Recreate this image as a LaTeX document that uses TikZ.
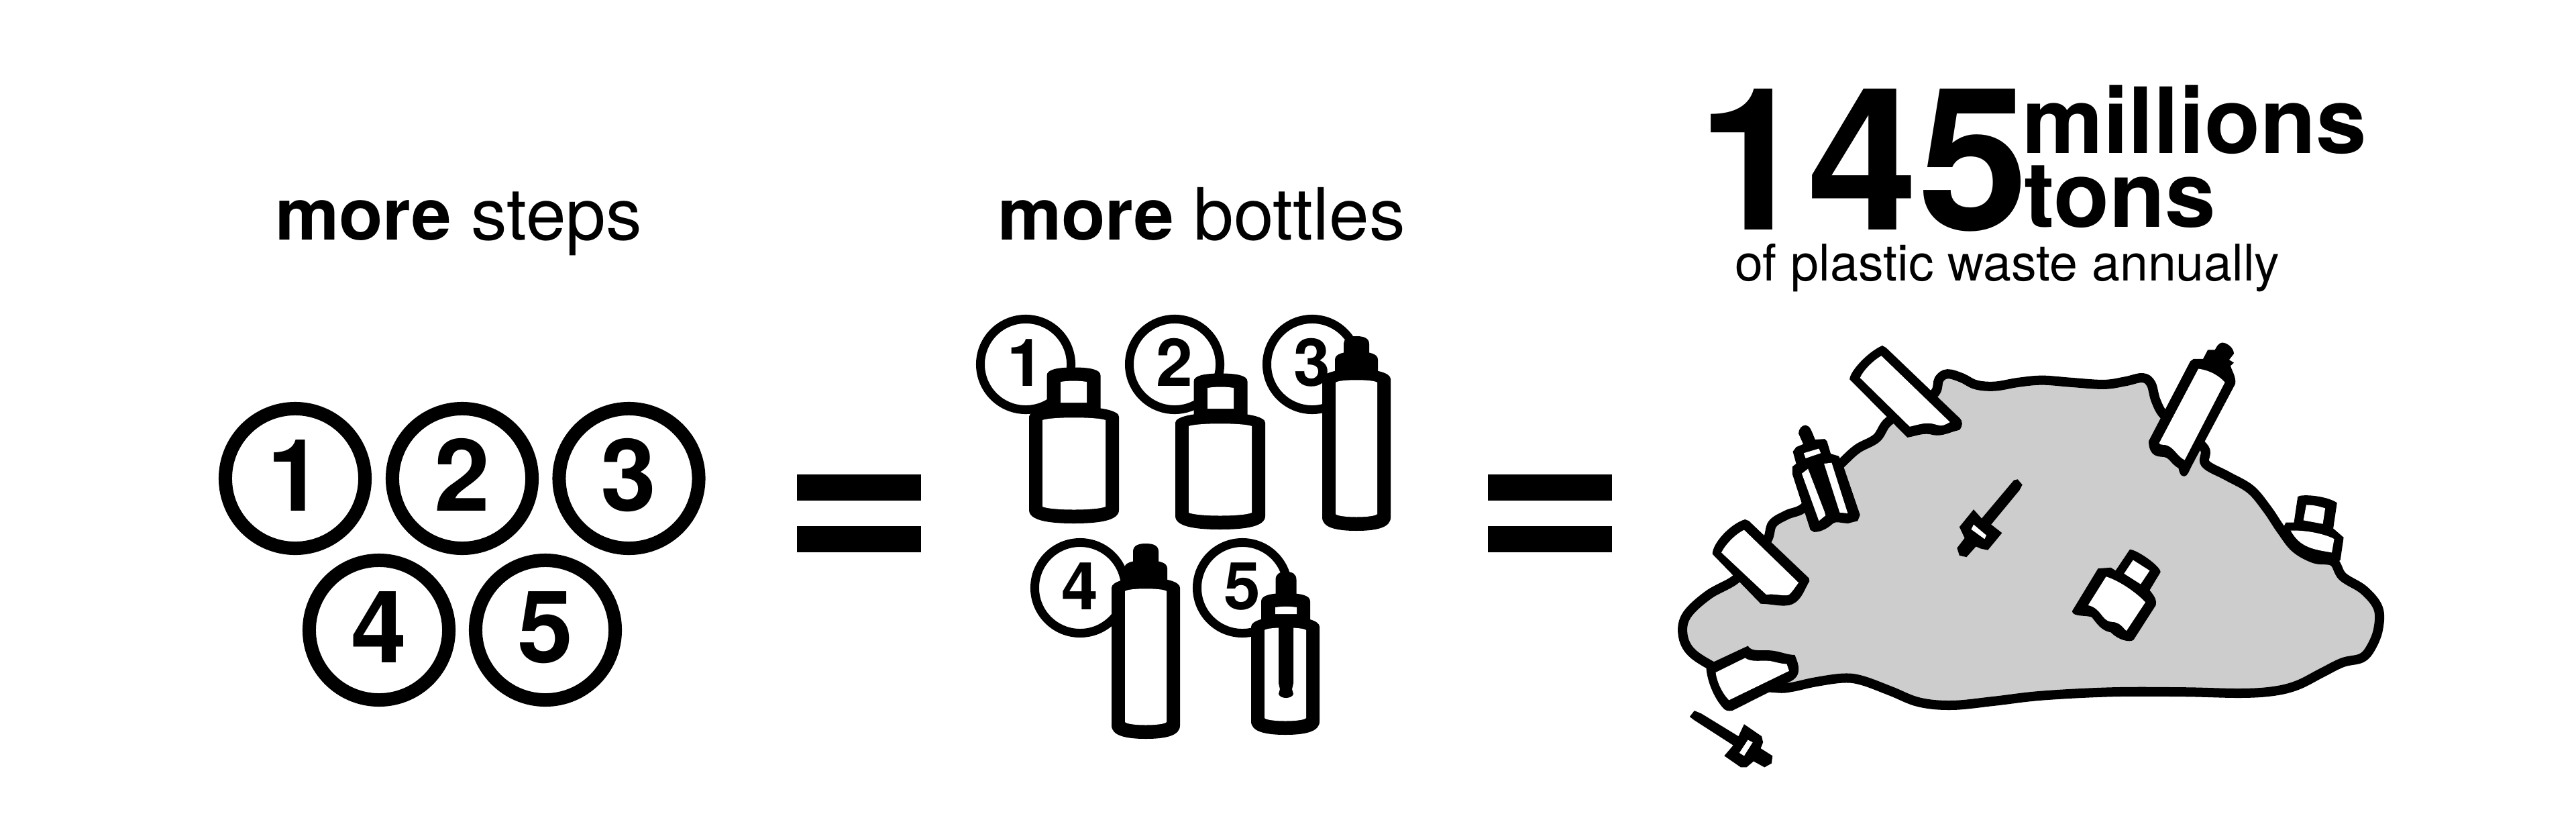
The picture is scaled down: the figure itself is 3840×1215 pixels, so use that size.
\documentclass[tikz,border=0pt]{standalone}
\usepackage{fontspec}
\usepackage{tikz}
\usepackage{xcolor}
\setmainfont{TeX Gyre Heros}

\definecolor{wastegray}{HTML}{CDCDCD}

\tikzset{
	ink/.style={fill=black},
	clean/.style={fill=white},
	headline/.style={inner sep=0pt,outer sep=0pt,anchor=base west,font=\fontsize{30.5}{36}\selectfont},
	stepring/.style={circle,draw,fill=white,line width=0.20cm,inner sep=0pt,outer sep=0pt,minimum size=2.08cm,
		text height=30.2pt,text depth=2.8pt,font=\fontsize{42.5}{50}\selectfont\bfseries},
	stepmark/.style={circle,draw,fill=white,line width=0.13cm,inner sep=0pt,outer sep=0pt,minimum size=1.35cm,
		text height=19.9pt,text depth=1.7pt,font=\fontsize{28}{34}\selectfont\bfseries},
	wastepart/.style={shift={(2480,480)},x=0.00705cm,y=-0.00449cm}
}

\newcommand{\bottlebody}[4]{
	\fill[ink] ({#1-#4},{#2+15}) .. controls ({#1-#4},{#2+6}) and ({#1-0.6*#4},{#2}) .. ({#1},{#2})
		.. controls ({#1+0.6*#4},{#2}) and ({#1+#4},{#2+6}) .. ({#1+#4},{#2+15})
		-- ({#1+#4},{#3-20}) .. controls ({#1+#4},{#3-5}) and ({#1+0.6*#4},{#3}) .. ({#1},{#3})
		.. controls ({#1-0.6*#4},{#3}) and ({#1-#4},{#3-5}) .. ({#1-#4},{#3-20}) -- cycle;
	\fill[clean] ({#1-#4+20},{#2+20}) .. controls ({#1-0.5*#4},{#2+15}) and ({#1+0.5*#4},{#2+15}) .. ({#1+#4-20},{#2+20})
		-- ({#1+#4-20},{#3-25}) .. controls ({#1+0.5*#4},{#3-19}) and ({#1-0.5*#4},{#3-19}) .. ({#1-#4+20},{#3-25}) -- cycle;
}
\newcommand{\bottleneck}[4]{
	\fill[ink] ({#1-#3},{#4}) -- ({#1-#3},{#2+12}) .. controls ({#1-#3},{#2+3}) and ({#1-0.6*#3},{#2}) .. ({#1},{#2})
		.. controls ({#1+0.6*#3},{#2}) and ({#1+#3},{#2+3}) .. ({#1+#3},{#2+12}) -- ({#1+#3},{#4}) -- cycle;
}

\begin{document}
\begin{tikzpicture}[x=0.01cm,y=-0.01cm]
	\useasboundingbox (0,0) rectangle (3840,1215);

	\node[headline] (stepstitle) at (410,357) {\textbf{more} steps};
	\node[headline] (bottlestitle) at (1487,357) {\textbf{more} bottles};

	\node[stepring] (stepa) at (440,713) {1};
	\node[stepring] (stepb) at (689,713) {2};
	\node[stepring] (stepc) at (937.5,713) {3};
	\node[stepring] (stepd) at (565,939) {4};
	\node[stepring] (stepe) at (813,939) {5};

	\fill[ink] (1188,707) rectangle (1373,746);
	\fill[ink] (1188,784) rectangle (1373,823);
	\fill[ink] (2218,707) rectangle (2403,746);
	\fill[ink] (2218,784) rectangle (2403,823);

	\node[stepmark] (marka) at (1529,543) {1};
	\node[stepmark] (markb) at (1751,543) {2};
	\node[stepmark] (markc) at (1956,543) {3};
	\node[stepmark] (markd) at (1610,876) {4};
	\node[stepmark] (marke) at (1852,876) {5};

	\bottleneck{1600.5}{547.5}{40}{615}
	\fill[clean] (1581,569) .. controls (1595,567) and (1606,567) .. (1620,569) -- (1620,600) -- (1581,600) -- cycle;
	\bottlebody{1601}{606}{780}{67}

	\bottleneck{1819.5}{556.5}{40}{625}
	\fill[clean] (1800,578) .. controls (1814,576) and (1825,576) .. (1839,578) -- (1839,609) -- (1800,609) -- cycle;
	\bottlebody{1819}{615}{789}{67}

	\bottleneck{2022}{501}{19}{535}
	\bottleneck{2022}{524}{32}{560}
	\bottlebody{2022}{550}{791}{51}

	\bottleneck{1708}{810}{19}{845}
	\bottleneck{1708}{835}{32}{870}
	\bottlebody{1708}{861}{1101}{51}

	\bottleneck{1917}{852}{15.5}{895}
	\bottleneck{1916.5}{884}{36.5}{930}
	\fill[clean] (1901,905) .. controls (1910,903.5) and (1924,903.5) .. (1933,905) -- (1933,915) -- (1901,915) -- cycle;
	\bottlebody{1916}{919}{1095}{51}
	\fill[ink] (1906,930) -- (1906,1018) -- (1908,1027) -- (1906,1034) .. controls (1908,1042) and (1926,1042) .. (1928,1034)
		-- (1926,1027) -- (1928,1018) -- (1928,930) -- cycle;

	\node[inner sep=0pt,outer sep=0pt,anchor=base west,font=\fontsize{84.2}{90}\selectfont\bfseries] (total) at (2530,342) {145};
	\node[inner sep=0pt,outer sep=0pt,anchor=base west,font=\fontsize{38.7}{44}\selectfont\bfseries] (millions) at (3014,228) {millions};
	\node[inner sep=0pt,outer sep=0pt,anchor=base west,font=\fontsize{38.7}{44}\selectfont\bfseries] (tons) at (3017,338) {tons};
	\node[inner sep=0pt,outer sep=0pt,anchor=base west,font=\fontsize{21.4}{26}\selectfont] (waste) at (2586,418) {of plastic waste annually};

	\begin{scope}[wastepart]
		\filldraw[fill=wastegray,draw=black,line width=0.14cm] plot[smooth cycle,tension=0.6] coordinates {
			(573,235) (582,190) (600,172) (630,185) (660,208) (700,213) (750,200) (800,193) (860,200) (930,207)
			(975,197) (1012,185) (1030,205) (1040,260) (1058,310) (1100,360) (1143,420) (1145,470) (1190,510)
			(1240,555) (1275,620) (1305,690) (1335,750) (1375,785) (1415,795) (1435,845) (1480,890) (1510,950)
			(1510,1020) (1495,1080) (1475,1115) (1435,1130) (1390,1165) (1340,1205) (1290,1225) (1220,1232)
			(1100,1228) (950,1228) (800,1240) (700,1258) (610,1272) (540,1262) (480,1225) (420,1190) (380,1182)
			(320,1195) (270,1212) (240,1215) (180,1200) (100,1140) (55,1090) (40,1030) (50,970) (95,905) (155,850)
			(180,780) (218,725) (230,670) (260,640) (297,615) (330,540) (378,465) (410,420) (450,385) (475,330) (530,280)};

		\fill[ink] (462,78) .. controls (430,100) and (393,165) .. (393,190) -- (515,383) .. controls (535,378) and (550,365) .. (570,375)
			.. controls (590,380) and (605,365) .. (625,358) .. controls (632,345) and (633,330) .. (625,318) -- (470,85) -- cycle;
		\fill[clean] (460,112) .. controls (440,130) and (420,165) .. (415,185) -- (520,347) .. controls (540,340) and (555,330) .. (575,340)
			.. controls (590,348) and (595,340) .. (605,332) -- cycle;

		\fill[ink] (1113,130) -- (1025,395) .. controls (1025,420) and (1030,445) .. (1050,447) .. controls (1070,445) and (1070,470) .. (1088,485)
			.. controls (1090,500) and (1092,512) .. (1100,512) .. controls (1107,512) and (1110,495) .. (1115,480) -- (1208,205)
			.. controls (1210,180) and (1200,160) .. (1198,145) -- (1205,135) -- (1195,125) -- (1205,105) .. controls (1205,85) and (1190,68) .. (1180,68)
			.. controls (1170,72) and (1168,85) .. (1165,92) -- (1150,92) -- (1140,122) -- (1120,122) -- cycle;
		\fill[clean] (1130,155) .. controls (1155,160) and (1175,180) .. (1186,200) -- (1101,458) .. controls (1085,445) and (1080,420) .. (1065,410)
			.. controls (1058,405) and (1050,410) .. (1047,402) -- cycle;

		\fill[ink] (285,370) .. controls (285,355) and (292,342) .. (300,342) .. controls (310,345) and (312,360) .. (320,390) -- (340,388) -- (345,395)
			-- (353,437) -- (370,445) -- (378,470) -- (415,640) -- (410,660) -- (390,668) .. controls (375,668) and (365,660) .. (358,668)
			.. controls (350,680) and (335,697) .. (318,697) -- (310,690) -- (272,505) -- (272,480) -- (280,470) -- (273,430) -- (280,415) -- (295,405) -- cycle;
		\fill[clean] (296,435) -- (328,420) -- (332,435) -- (300,452) -- cycle;
		\fill[clean] (292,503) -- (305,487) -- (340,630) -- (342,642) -- (328,660) -- cycle;
		\fill[clean] (339,470) -- (355,467) -- (389,635) -- (372,632) -- cycle;

		\fill[ink] (172,655) .. controls (140,670) and (103,735) .. (103,770) -- (205,935) .. controls (225,935) and (245,945) .. (265,940)
			.. controls (290,930) and (295,895) .. (308,860) -- (307,850) -- (180,660) -- cycle;
		\fill[clean] (170,690) .. controls (150,705) and (130,740) .. (122,765) -- (217,905) .. controls (235,900) and (255,912) .. (265,905)
			.. controls (272,895) and (278,880) .. (285,865) -- cycle;

		\fill[ink] (90,1150) -- (103,1130) -- (178,1075) .. controls (185,1095) and (205,1088) .. (225,1090) .. controls (245,1092) and (260,1105) .. (277,1105)
			.. controls (285,1135) and (295,1175) .. (265,1195) -- (145,1290) .. controls (135,1292) and (130,1290) .. (125,1280)
			.. controls (105,1245) and (92,1190) .. (90,1150) -- cycle;
		\fill[clean] (110,1163) -- (172,1115) .. controls (185,1130) and (205,1122) .. (225,1125) .. controls (240,1130) and (250,1135) .. (260,1135)
			-- (265,1158) -- (138,1255) .. controls (125,1235) and (112,1195) .. (110,1163) -- cycle;

		\fill[ink] (1332,665) -- (1340,580) .. controls (1345,570) and (1400,575) .. (1423,600) -- (1415,685) -- (1437,715) -- (1430,790) -- (1420,802)
			.. controls (1380,795) and (1340,790) .. (1310,680) -- (1315,665) -- cycle;
		\fill[clean] (1358,607) .. controls (1375,607) and (1385,612) .. (1398,618) -- (1393,670) -- (1352,658) -- cycle;
		\fill[clean] (1325,692) .. controls (1360,690) and (1400,705) .. (1417,720) -- (1412,765) .. controls (1375,755) and (1345,750) .. (1325,692) -- cycle;

		\fill[ink] (740,525) -- (748,522) -- (758,540) -- (752,558) -- (692,672) -- (715,700) -- (685,757) -- (670,752) -- (660,745) -- (640,780)
			-- (625,775) -- (620,750) -- (636,717) -- (625,680) -- (655,622) -- (672,652) -- (732,540) -- cycle;
		\fill[clean] (655,672) -- (682,708) -- (678,720) -- (650,688) -- cycle;

		\fill[ink] (985,755) .. controls (1000,755) and (1050,810) .. (1050,830) -- (1027,890) .. controls (1040,915) and (1042,925) .. (1040,940)
			-- (993,1055) .. controls (985,1065) and (960,1055) .. (945,1030) .. controls (925,1025) and (915,1000) .. (905,980)
			.. controls (895,972) and (865,980) .. (863,960) -- (918,818) -- (945,815) -- (955,825) -- cycle;
		\fill[clean] (992,790) -- (1027,825) -- (1008,870) -- (973,835) -- cycle;
		\fill[clean] (935,845) .. controls (965,860) and (1000,900) .. (1018,930) -- (978,1025) .. controls (970,1015) and (965,995) .. (945,995)
			.. controls (925,990) and (925,950) .. (897,940) -- cycle;

		\fill[ink] (55,1310) -- (65,1290) -- (80,1300) -- (158,1375) -- (170,1335) -- (207,1375) -- (210,1395) -- (205,1415) -- (230,1440) -- (228,1465)
			-- (213,1478) -- (190,1458) -- (175,1478) -- (163,1478) -- (128,1440) -- (147,1405) -- (65,1322) -- cycle;
		\fill[clean] (178,1387) -- (188,1395) -- (170,1440) -- (160,1430) -- cycle;
	\end{scope}
\end{tikzpicture}
\end{document}
